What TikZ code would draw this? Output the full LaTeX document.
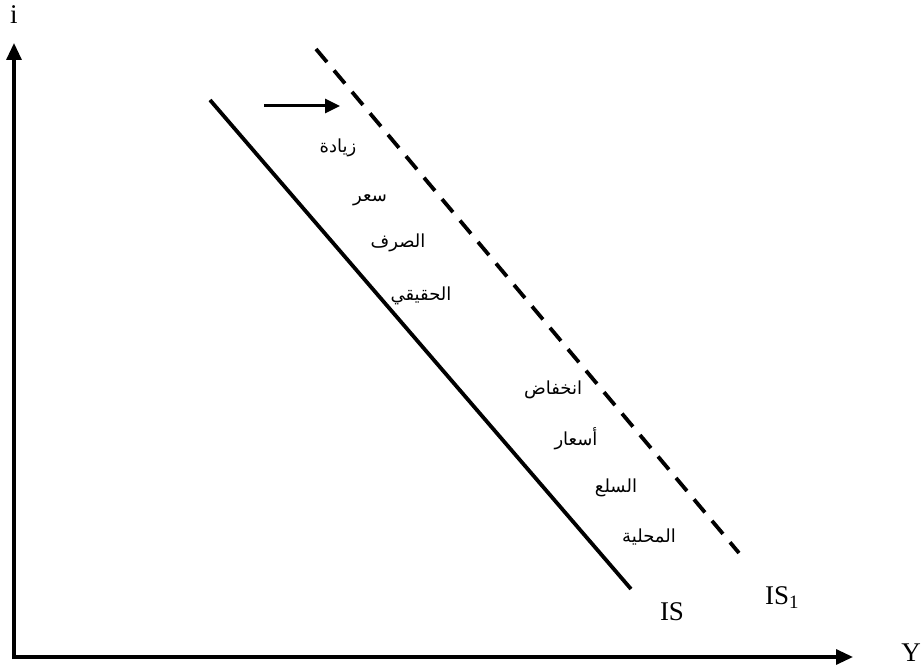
\documentclass[tikz,border=0pt]{standalone}
\usepackage{fontspec}
\setmainfont{Liberation Serif}
\newfontfamily\arabicfont[Script=Arabic]{DejaVu Sans}
\TeXXeTstate=1
\usetikzlibrary{arrows.meta}
\tikzset{
  axisline/.style={line width=3.2pt,-{Triangle[length=17pt,width=15pt]}},
  curveline/.style={line width=3.8pt},
  shiftedline/.style={line width=3.8pt,dash pattern=on 17pt off 11pt},
  lab/.style={font=\fontsize{27}{30}\selectfont,inner sep=0pt},
  ar/.style={font=\arabicfont\fontsize{18}{21}\selectfont,inner sep=0pt},
  smallarrow/.style={line width=3pt,-{Triangle[length=15pt,width=14pt]}}
}
\begin{document}
\begin{tikzpicture}[x=1pt,y=-1pt]
\useasboundingbox (0,0) rectangle (922,671);
\coordinate (Ybot) at (14,659);
\coordinate (Xbeg) at (12.5,657);
\coordinate (Ytop) at (14,43);
\coordinate (Xend) at (853,657);
\draw[axisline] (Ybot) -- (Ytop);
\draw[axisline] (Xbeg) -- (Xend);
\node[lab] (ilab) at (14,15) {i};
\node[lab] (Ylab) at (911,653) {Y};
\coordinate (IS0a) at (210,100);
\coordinate (IS0b) at (631,589);
\draw[curveline] (IS0a) -- (IS0b);
\coordinate (IS1a) at (316,49);
\coordinate (IS1b) at (739,553);
\draw[shiftedline] (IS1a) -- (IS1b);
\coordinate (arrA) at (264,106);
\coordinate (arrB) at (340,106);
\draw[smallarrow] (arrA) -- (arrB);
\node[lab] (ISlab) at (672,612) {IS};
\node[lab] (IS1lab) at (782,598) {IS\textsubscript{1}};
\node[ar] (t1) at (338,148) {\beginR زيادة\endR};
\node[ar] (t2) at (370,200) {\beginR سعر\endR};
\node[ar] (t3) at (398,243) {\beginR الصرف\endR};
\node[ar] (t4) at (421,296) {\beginR الحقيقي\endR};
\node[ar] (t5) at (553,390) {\beginR انخفاض\endR};
\node[ar] (t6) at (576,439) {\beginR أسعار\endR};
\node[ar] (t7) at (616,488) {\beginR السلع\endR};
\node[ar] (t8) at (649,537) {\beginR المحلية\endR};
\end{tikzpicture}
\end{document}
